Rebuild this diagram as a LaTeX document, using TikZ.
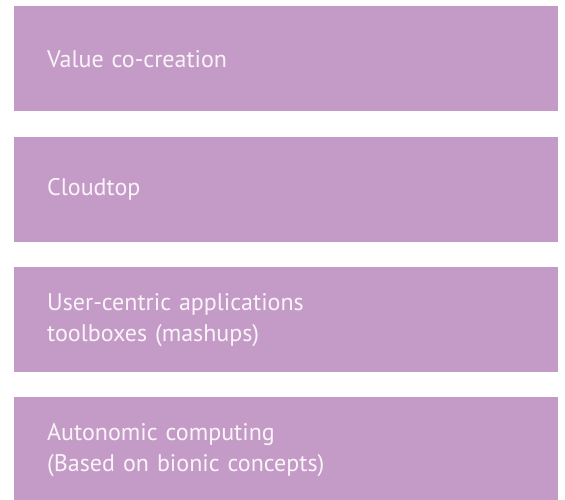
\documentclass[tikz,border=0pt]{standalone}
\usepackage{fontspec}
\setmainfont{PT Sans}
\definecolor{boxpurple}{RGB}{196,155,198}
\definecolor{boxtext}{RGB}{250,244,250}
\tikzset{
  layerbox/.style={draw=none, fill=boxpurple, anchor=north west,
    minimum width=544pt, minimum height=105pt,
    inner xsep=33pt, inner ysep=0pt, text width=478pt, align=left,
    text=boxtext, font=\fontsize{24}{31}\selectfont}
}
\begin{document}
\begin{tikzpicture}[x=1pt,y=-1pt]
\useasboundingbox (0,0) rectangle (565,499);
\node[layerbox] (b1) at (14,6) {Value co-creation};
\node[layerbox] (b2) at (14,137) {Cloudtop};
\node[layerbox] (b3) at (14,267) {User-centric applications\\toolboxes (mashups)};
\node[layerbox] (b4) at (14,397) {Autonomic computing\\(Based on bionic concepts)};
\end{tikzpicture}
\end{document}
